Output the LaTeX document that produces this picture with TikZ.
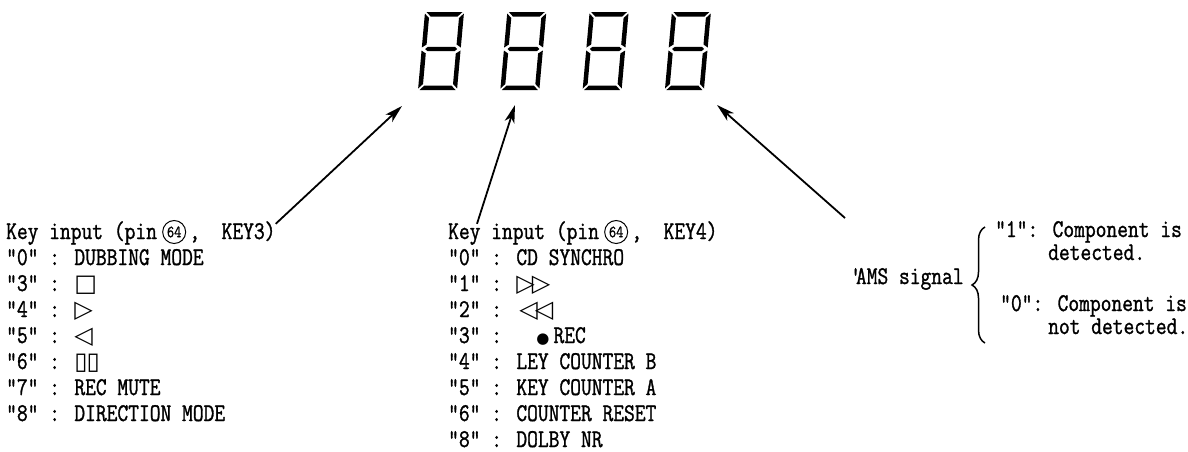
\documentclass[tikz,border=0pt]{standalone}
\usepackage{fontspec}
\usetikzlibrary{arrows.meta,decorations.pathreplacing,positioning}
\newfontfamily\kfont[FakeStretch=0.82,FakeBold=1.2]{Latin Modern Mono}
\newfontfamily\symfont{DejaVu Sans}
\newcommand{\sym}[1]{{\symfont\fontsize{24}{24}\selectfont #1}}

\tikzset{
	keytext/.style={anchor=base west,inner sep=0pt,text height=15pt,text depth=1pt,font=\kfont\fontsize{25.5}{26}\selectfont},
	pinmark/.style={draw,circle,line width=1pt,inner sep=0pt,minimum size=23pt,font=\kfont\fontsize{17}{17}\selectfont},
	pointer/.style={line width=1.8pt,-{Stealth[length=18pt,width=10pt,inset=5pt]}},
	bracebar/.style={line width=1.5pt,decorate,decoration={brace,amplitude=13pt}},
}

\begin{document}
\begin{tikzpicture}[x=1pt,y=-1pt]
	\useasboundingbox (0,0) rectangle (1188,451);
	% seven segment display
	\foreach \i in {0,...,3}{
		\begin{scope}[shift={(418+82.3*\i,90)},y=1pt,xslant=0.09]
			\fill (1.5,78) -- (37.5,78) -- (33,73.5) -- (6,73.5) -- cycle;
			\fill (1.5,0) -- (37.5,0) -- (33,4.5) -- (6,4.5) -- cycle;
			\fill (3.5,41) -- (6,43.2) -- (33,43.2) -- (35.5,41) -- (33,38.8) -- (6,38.8) -- cycle;
			\fill (0,76.5) -- (4.5,72) -- (4.5,45.5) -- (0,42.5) -- cycle;
			\fill (0,1.5) -- (4.5,6) -- (4.5,36.5) -- (0,39.5) -- cycle;
			\fill (39,76.5) -- (34.5,72) -- (34.5,45.5) -- (39,42.5) -- cycle;
			\fill (39,1.5) -- (34.5,6) -- (34.5,36.5) -- (39,39.5) -- cycle;
		\end{scope}
	}
	\coordinate (t1) at (402,106);
	\coordinate (t2) at (515,105);
	\coordinate (t3) at (717,105);
	\coordinate (s3) at (845,218);

	% KEY3
	\node[keytext] (k3) at (6,239) {Key input (pin};
	\node[pinmark,right=5pt of k3.east] (p3) {64};
	\node[keytext] (k3b) at ([xshift=3pt]p3.east |- k3.base) {,\ \ KEY3)};
	\node[keytext] (l0) at (6,265) {"0" : DUBBING MODE};
	\node[keytext] (l3) at (6,291) {"3" : \sym{□}};
	\node[keytext] (l4) at (6,317) {"4" : \sym{▷}};
	\node[keytext] (l5) at (6,343) {"5" : \sym{◁}};
	\node[keytext] (l6) at (6,369) {"6" : \sym{▯\kern-1pt▯}};
	\node[keytext] (l7) at (6,395) {"7" : REC MUTE};
	\node[keytext] (l8) at (6,421) {"8" : DIRECTION MODE};

	% KEY4
	\node[keytext] (k4) at (448,239) {Key input (pin};
	\node[pinmark,right=5pt of k4.east] (p4) {64};
	\node[keytext] (k4b) at ([xshift=3pt]p4.east |- k4.base) {,\ \ KEY4)};
	\node[keytext] (m0) at (448,265) {"0" : CD SYNCHRO};
	\node[keytext] (m1) at (448,291) {"1" : \sym{▷\kern-3pt▷}};
	\node[keytext] (m2) at (448,317) {"2" : \kern3pt\sym{◁\kern-3pt◁}};
	\node[keytext] (m3) at (448,343) {"3" : \kern20pt\sym{\fontsize{15}{15}\selectfont●}\kern4pt REC};
	\node[keytext] (m4) at (448,369) {"4" : LEY COUNTER B};
	\node[keytext] (m5) at (448,395) {"5" : KEY COUNTER A};
	\node[keytext] (m6) at (448,421) {"6" : COUNTER RESET};
	\node[keytext] (m8) at (448,447) {"8" : DOLBY NR};

	% AMS
	\node[keytext] (ams) at (850,284) {'\kern-5pt AMS signal};
	\draw[bracebar] (985,343) -- (985,227);
	\node[keytext] (r1) at (995,237) {"1": Component is};
	\node[keytext] (r1b) at (1048,260) {detected.};
	\node[keytext] (r0) at (1000,311) {"0": Component is};
	\node[keytext] (r0b) at (1048,334) {not detected.};

	\draw[pointer] (k3b.north east) -- (t1);
	\draw[pointer] ([xshift=29pt]k4.north west) -- (t2);
	\draw[pointer] (s3) -- (t3);
\end{tikzpicture}
\end{document}
